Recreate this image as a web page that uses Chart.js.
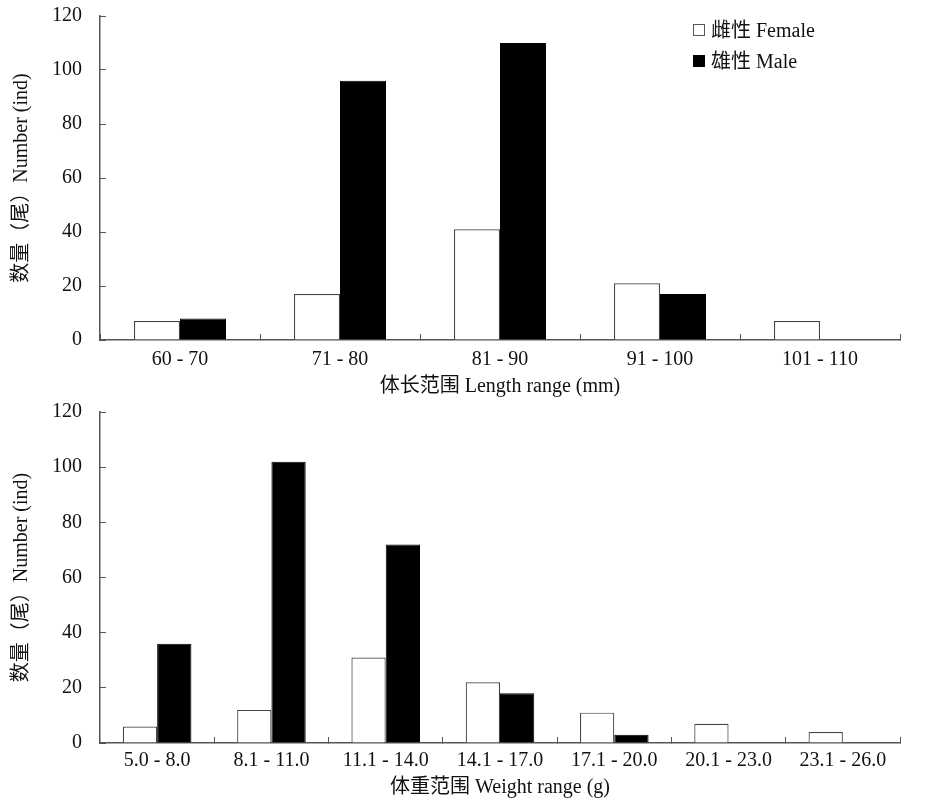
<!DOCTYPE html>
<html>
<head>
<meta charset="utf-8">
<script src="https://cdn.jsdelivr.net/npm/chart.js@4.4.1/dist/chart.umd.min.js"></script>
<style>
  body { margin: 0; background: #fff; }
  .wrap { position: absolute; left: 0; width: 925px; }
  #legend { position: absolute; left: 693px; top: 18px; font-family: 'Liberation Serif', 'Noto Sans CJK SC', serif; font-size: 20px; color: #111; }
  #legend div { height: 31px; line-height: 24px; white-space: nowrap; }
  #legend span.box { display: inline-block; width: 10px; height: 10px; margin-right: 6px; vertical-align: 1px; }
</style>
</head>
<body>
<div class="wrap" style="top:0;height:400px"><canvas id="lengthChart"></canvas></div>
<div class="wrap" style="top:400px;height:406px"><canvas id="weightChart"></canvas></div>
<div id="legend"></div>
<script>
// 体长 (mm)
const lengthRanges = ['60 - 70', '71 - 80', '81 - 90', '91 - 100', '101 - 110'];
const lengthFemale = [7, 17, 41, 21, 7];
const lengthMale = [8, 96, 110, 17, 0];

// 体重 (g)
const weightRanges = ['5.0 - 8.0', '8.1 - 11.0', '11.1 - 14.0', '14.1 - 17.0', '17.1 - 20.0', '20.1 - 23.0', '23.1 - 26.0'];
const weightFemale = [6, 12, 31, 22, 11, 7, 4];
const weightMale = [36, 102, 72, 18, 3, 0, 0];

const yTicks = [0, 20, 40, 60, 80, 100, 120];

const femaleLabel = '雌性 Female';
const maleLabel = '雄性 Male';
const yTitle = '数量（尾）Number (ind)';

Chart.defaults.font.family = "'Liberation Serif', 'Noto Sans CJK SC', serif";
Chart.defaults.font.size = 20;
Chart.defaults.color = '#111';

const axisColor = '#555';

function makeChart(id, labels, female, male, xTitle, o) {
  const ctx = document.getElementById(id).getContext('2d');
  return new Chart(ctx, {
    type: 'bar',
    data: {
      labels: labels,
      datasets: [{
        label: femaleLabel,
        data: female,
        backgroundColor: '#fff',
        borderColor: '#444',
        borderWidth: 1.2
      }, {
        label: maleLabel,
        data: male,
        backgroundColor: '#000',
        borderColor: '#000',
        borderWidth: 1
      }]
    },
    options: {
      responsive: true,
      maintainAspectRatio: false,
      animation: false,
      categoryPercentage: o.catPct,
      barPercentage: 1,
      layout: { padding: { top: o.top, right: 25, left: 0, bottom: 0 } },
      plugins: { legend: { display: false }, tooltip: { enabled: false } },
      scales: {
        x: {
          grid: { drawOnChartArea: false, tickLength: -6, color: axisColor, lineWidth: 1 },
          border: { color: axisColor, width: 1.5 },
          ticks: { autoSkip: false, maxRotation: 0, padding: o.tickPad, color: '#111' },
          title: { display: true, text: xTitle, padding: { top: 0, bottom: o.titlePad }, color: '#111' },
          afterFit: function(scale) { scale.height = o.xHeight; }
        },
        y: {
          min: 0,
          max: 120,
          afterBuildTicks: function(scale) { scale.ticks = yTicks.map(v => ({ value: v })); },
          grid: { drawOnChartArea: false, tickLength: -6, color: axisColor, lineWidth: 1 },
          border: { color: axisColor, width: 1.5 },
          ticks: { padding: 24, color: '#111' },
          title: { display: true, text: yTitle, padding: { top: 10, bottom: 0 }, color: '#111' },
          afterFit: function(scale) {
            scale.width = 100;
            scale.paddingTop = 0;
            scale.paddingBottom = 0;
          }
        }
      }
    }
  });
}

const c1 = makeChart('lengthChart', lengthRanges, lengthFemale, lengthMale, '体长范围 Length range (mm)',
  { catPct: 0.575, top: 16, xHeight: 60, tickPad: 14, titlePad: 1 });
makeChart('weightChart', weightRanges, weightFemale, weightMale, '体重范围 Weight range (g)',
  { catPct: 0.6, top: 12, xHeight: 63, tickPad: 12, titlePad: 6 });

// legend
const legend = document.getElementById('legend');
c1.data.datasets.forEach(function(ds) {
  const row = document.createElement('div');
  const box = document.createElement('span');
  box.className = 'box';
  box.style.background = ds.backgroundColor;
  box.style.border = '1.5px solid ' + (ds.backgroundColor === '#000' ? '#000' : '#555');
  row.appendChild(box);
  row.appendChild(document.createTextNode(ds.label));
  legend.appendChild(row);
});
</script>
</body>
</html>
